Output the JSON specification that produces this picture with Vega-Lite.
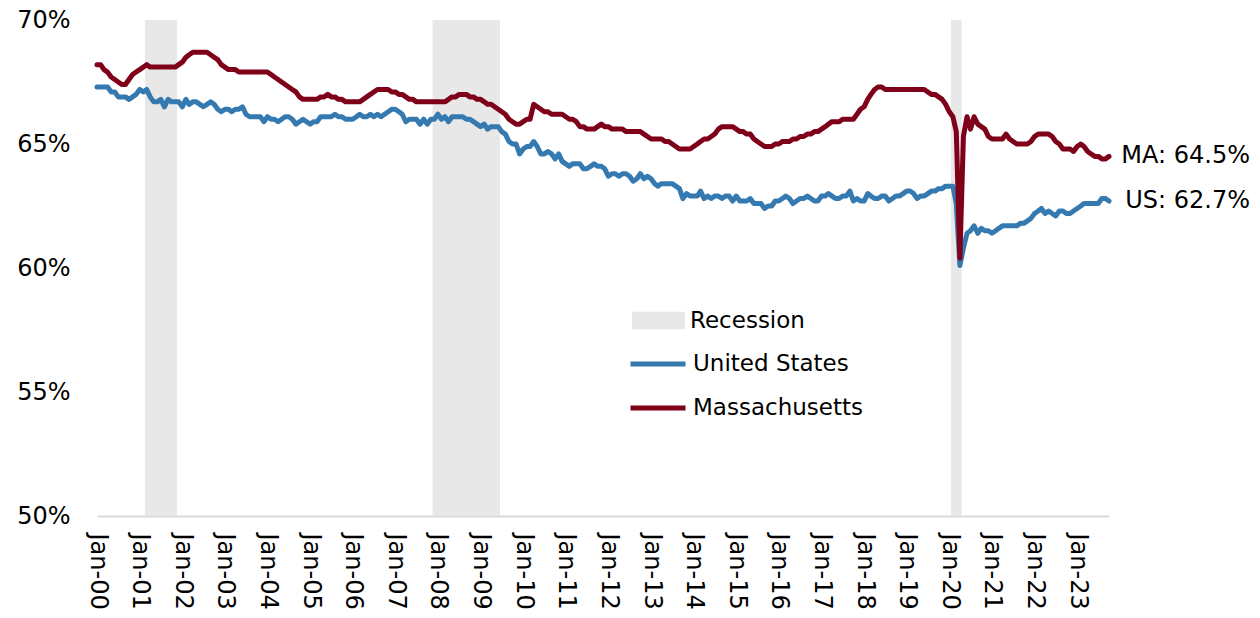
{
  "$schema": "https://vega.github.io/schema/vega-lite/v6.json",
  "width": 1012,
  "height": 496,
  "autosize": {"type": "none"},
  "padding": {"left": 97, "top": 20, "right": 151, "bottom": 102},
  "background": "white",
  "config": {
    "view": {"stroke": null},
    "font": "DejaVu Sans",
    "text": {"font": "DejaVu Sans"}
  },
  "data": {
    "values": [
      {"d":"2000-01","US":67.3,"MA":68.2},{"d":"2000-02","US":67.3,"MA":68.2},{"d":"2000-03","US":67.3,"MA":68.0},{"d":"2000-04","US":67.3,"MA":67.9},{"d":"2000-05","US":67.1,"MA":67.7},{"d":"2000-06","US":67.1,"MA":67.6},{"d":"2000-07","US":66.9,"MA":67.5},{"d":"2000-08","US":66.9,"MA":67.4},{"d":"2000-09","US":66.9,"MA":67.4},{"d":"2000-10","US":66.8,"MA":67.6},{"d":"2000-11","US":66.9,"MA":67.8},{"d":"2000-12","US":67.0,"MA":67.9},
      {"d":"2001-01","US":67.2,"MA":68.0},{"d":"2001-02","US":67.1,"MA":68.1},{"d":"2001-03","US":67.2,"MA":68.2},{"d":"2001-04","US":66.9,"MA":68.1},{"d":"2001-05","US":66.7,"MA":68.1},{"d":"2001-06","US":66.7,"MA":68.1},{"d":"2001-07","US":66.8,"MA":68.1},{"d":"2001-08","US":66.5,"MA":68.1},{"d":"2001-09","US":66.8,"MA":68.1},{"d":"2001-10","US":66.7,"MA":68.1},{"d":"2001-11","US":66.7,"MA":68.1},{"d":"2001-12","US":66.7,"MA":68.2},
      {"d":"2002-01","US":66.5,"MA":68.3},{"d":"2002-02","US":66.8,"MA":68.5},{"d":"2002-03","US":66.6,"MA":68.6},{"d":"2002-04","US":66.7,"MA":68.7},{"d":"2002-05","US":66.7,"MA":68.7},{"d":"2002-06","US":66.6,"MA":68.7},{"d":"2002-07","US":66.5,"MA":68.7},{"d":"2002-08","US":66.6,"MA":68.7},{"d":"2002-09","US":66.7,"MA":68.6},{"d":"2002-10","US":66.6,"MA":68.5},{"d":"2002-11","US":66.4,"MA":68.4},{"d":"2002-12","US":66.3,"MA":68.2},
      {"d":"2003-01","US":66.4,"MA":68.1},{"d":"2003-02","US":66.4,"MA":68.0},{"d":"2003-03","US":66.3,"MA":68.0},{"d":"2003-04","US":66.4,"MA":68.0},{"d":"2003-05","US":66.4,"MA":67.9},{"d":"2003-06","US":66.5,"MA":67.9},{"d":"2003-07","US":66.2,"MA":67.9},{"d":"2003-08","US":66.1,"MA":67.9},{"d":"2003-09","US":66.1,"MA":67.9},{"d":"2003-10","US":66.1,"MA":67.9},{"d":"2003-11","US":66.1,"MA":67.9},{"d":"2003-12","US":65.9,"MA":67.9},
      {"d":"2004-01","US":66.1,"MA":67.9},{"d":"2004-02","US":66.0,"MA":67.8},{"d":"2004-03","US":66.0,"MA":67.7},{"d":"2004-04","US":65.9,"MA":67.6},{"d":"2004-05","US":66.0,"MA":67.5},{"d":"2004-06","US":66.1,"MA":67.4},{"d":"2004-07","US":66.1,"MA":67.3},{"d":"2004-08","US":66.0,"MA":67.2},{"d":"2004-09","US":65.8,"MA":67.1},{"d":"2004-10","US":65.9,"MA":66.9},{"d":"2004-11","US":66.0,"MA":66.8},{"d":"2004-12","US":65.9,"MA":66.8},
      {"d":"2005-01","US":65.8,"MA":66.8},{"d":"2005-02","US":65.9,"MA":66.8},{"d":"2005-03","US":65.9,"MA":66.8},{"d":"2005-04","US":66.1,"MA":66.9},{"d":"2005-05","US":66.1,"MA":66.9},{"d":"2005-06","US":66.1,"MA":67.0},{"d":"2005-07","US":66.1,"MA":66.9},{"d":"2005-08","US":66.2,"MA":66.9},{"d":"2005-09","US":66.1,"MA":66.8},{"d":"2005-10","US":66.1,"MA":66.8},{"d":"2005-11","US":66.0,"MA":66.7},{"d":"2005-12","US":66.0,"MA":66.7},
      {"d":"2006-01","US":66.0,"MA":66.7},{"d":"2006-02","US":66.1,"MA":66.7},{"d":"2006-03","US":66.2,"MA":66.7},{"d":"2006-04","US":66.1,"MA":66.8},{"d":"2006-05","US":66.1,"MA":66.9},{"d":"2006-06","US":66.2,"MA":67.0},{"d":"2006-07","US":66.1,"MA":67.1},{"d":"2006-08","US":66.2,"MA":67.2},{"d":"2006-09","US":66.1,"MA":67.2},{"d":"2006-10","US":66.2,"MA":67.2},{"d":"2006-11","US":66.3,"MA":67.2},{"d":"2006-12","US":66.4,"MA":67.1},
      {"d":"2007-01","US":66.4,"MA":67.1},{"d":"2007-02","US":66.3,"MA":67.0},{"d":"2007-03","US":66.2,"MA":67.0},{"d":"2007-04","US":65.9,"MA":66.9},{"d":"2007-05","US":66.0,"MA":66.8},{"d":"2007-06","US":66.0,"MA":66.8},{"d":"2007-07","US":66.0,"MA":66.7},{"d":"2007-08","US":65.8,"MA":66.7},{"d":"2007-09","US":66.0,"MA":66.7},{"d":"2007-10","US":65.8,"MA":66.7},{"d":"2007-11","US":66.0,"MA":66.7},{"d":"2007-12","US":66.0,"MA":66.7},
      {"d":"2008-01","US":66.2,"MA":66.7},{"d":"2008-02","US":66.0,"MA":66.7},{"d":"2008-03","US":66.1,"MA":66.7},{"d":"2008-04","US":65.9,"MA":66.8},{"d":"2008-05","US":66.1,"MA":66.9},{"d":"2008-06","US":66.1,"MA":66.9},{"d":"2008-07","US":66.1,"MA":67.0},{"d":"2008-08","US":66.1,"MA":67.0},{"d":"2008-09","US":66.0,"MA":67.0},{"d":"2008-10","US":66.0,"MA":66.9},{"d":"2008-11","US":65.9,"MA":66.9},{"d":"2008-12","US":65.8,"MA":66.8},
      {"d":"2009-01","US":65.7,"MA":66.8},{"d":"2009-02","US":65.8,"MA":66.7},{"d":"2009-03","US":65.6,"MA":66.6},{"d":"2009-04","US":65.7,"MA":66.6},{"d":"2009-05","US":65.7,"MA":66.5},{"d":"2009-06","US":65.7,"MA":66.4},{"d":"2009-07","US":65.5,"MA":66.3},{"d":"2009-08","US":65.4,"MA":66.2},{"d":"2009-09","US":65.1,"MA":66.0},{"d":"2009-10","US":65.0,"MA":65.9},{"d":"2009-11","US":65.0,"MA":65.8},{"d":"2009-12","US":64.6,"MA":65.8},
      {"d":"2010-01","US":64.8,"MA":65.9},{"d":"2010-02","US":64.9,"MA":66.0},{"d":"2010-03","US":64.9,"MA":66.0},{"d":"2010-04","US":65.1,"MA":66.6},{"d":"2010-05","US":64.9,"MA":66.5},{"d":"2010-06","US":64.6,"MA":66.4},{"d":"2010-07","US":64.6,"MA":66.3},{"d":"2010-08","US":64.7,"MA":66.3},{"d":"2010-09","US":64.6,"MA":66.2},{"d":"2010-10","US":64.4,"MA":66.2},{"d":"2010-11","US":64.6,"MA":66.2},{"d":"2010-12","US":64.3,"MA":66.2},
      {"d":"2011-01","US":64.2,"MA":66.1},{"d":"2011-02","US":64.1,"MA":66.0},{"d":"2011-03","US":64.2,"MA":66.0},{"d":"2011-04","US":64.2,"MA":65.9},{"d":"2011-05","US":64.2,"MA":65.7},{"d":"2011-06","US":64.0,"MA":65.7},{"d":"2011-07","US":64.0,"MA":65.6},{"d":"2011-08","US":64.1,"MA":65.6},{"d":"2011-09","US":64.2,"MA":65.6},{"d":"2011-10","US":64.1,"MA":65.7},{"d":"2011-11","US":64.1,"MA":65.8},{"d":"2011-12","US":64.0,"MA":65.7},
      {"d":"2012-01","US":63.7,"MA":65.7},{"d":"2012-02","US":63.8,"MA":65.6},{"d":"2012-03","US":63.8,"MA":65.6},{"d":"2012-04","US":63.7,"MA":65.6},{"d":"2012-05","US":63.8,"MA":65.6},{"d":"2012-06","US":63.8,"MA":65.5},{"d":"2012-07","US":63.7,"MA":65.5},{"d":"2012-08","US":63.5,"MA":65.5},{"d":"2012-09","US":63.6,"MA":65.5},{"d":"2012-10","US":63.8,"MA":65.5},{"d":"2012-11","US":63.6,"MA":65.4},{"d":"2012-12","US":63.7,"MA":65.3},
      {"d":"2013-01","US":63.6,"MA":65.2},{"d":"2013-02","US":63.4,"MA":65.2},{"d":"2013-03","US":63.3,"MA":65.2},{"d":"2013-04","US":63.4,"MA":65.2},{"d":"2013-05","US":63.4,"MA":65.1},{"d":"2013-06","US":63.4,"MA":65.1},{"d":"2013-07","US":63.4,"MA":65.0},{"d":"2013-08","US":63.3,"MA":64.9},{"d":"2013-09","US":63.2,"MA":64.8},{"d":"2013-10","US":62.8,"MA":64.8},{"d":"2013-11","US":63.0,"MA":64.8},{"d":"2013-12","US":62.9,"MA":64.8},
      {"d":"2014-01","US":62.9,"MA":64.9},{"d":"2014-02","US":62.9,"MA":65.0},{"d":"2014-03","US":63.1,"MA":65.1},{"d":"2014-04","US":62.8,"MA":65.2},{"d":"2014-05","US":62.9,"MA":65.2},{"d":"2014-06","US":62.8,"MA":65.3},{"d":"2014-07","US":62.9,"MA":65.4},{"d":"2014-08","US":62.9,"MA":65.6},{"d":"2014-09","US":62.8,"MA":65.7},{"d":"2014-10","US":62.9,"MA":65.7},{"d":"2014-11","US":62.9,"MA":65.7},{"d":"2014-12","US":62.7,"MA":65.7},
      {"d":"2015-01","US":62.9,"MA":65.6},{"d":"2015-02","US":62.7,"MA":65.5},{"d":"2015-03","US":62.7,"MA":65.5},{"d":"2015-04","US":62.7,"MA":65.4},{"d":"2015-05","US":62.8,"MA":65.4},{"d":"2015-06","US":62.6,"MA":65.2},{"d":"2015-07","US":62.6,"MA":65.1},{"d":"2015-08","US":62.6,"MA":65.0},{"d":"2015-09","US":62.4,"MA":64.9},{"d":"2015-10","US":62.5,"MA":64.9},{"d":"2015-11","US":62.5,"MA":64.9},{"d":"2015-12","US":62.7,"MA":65.0},
      {"d":"2016-01","US":62.7,"MA":65.0},{"d":"2016-02","US":62.8,"MA":65.1},{"d":"2016-03","US":62.9,"MA":65.1},{"d":"2016-04","US":62.8,"MA":65.1},{"d":"2016-05","US":62.6,"MA":65.2},{"d":"2016-06","US":62.7,"MA":65.2},{"d":"2016-07","US":62.8,"MA":65.3},{"d":"2016-08","US":62.8,"MA":65.3},{"d":"2016-09","US":62.9,"MA":65.4},{"d":"2016-10","US":62.8,"MA":65.4},{"d":"2016-11","US":62.7,"MA":65.5},{"d":"2016-12","US":62.7,"MA":65.5},
      {"d":"2017-01","US":62.9,"MA":65.6},{"d":"2017-02","US":62.9,"MA":65.7},{"d":"2017-03","US":63.0,"MA":65.8},{"d":"2017-04","US":62.9,"MA":65.9},{"d":"2017-05","US":62.8,"MA":65.9},{"d":"2017-06","US":62.8,"MA":65.9},{"d":"2017-07","US":62.9,"MA":66.0},{"d":"2017-08","US":62.9,"MA":66.0},{"d":"2017-09","US":63.1,"MA":66.0},{"d":"2017-10","US":62.7,"MA":66.0},{"d":"2017-11","US":62.8,"MA":66.2},{"d":"2017-12","US":62.7,"MA":66.4},
      {"d":"2018-01","US":62.7,"MA":66.5},{"d":"2018-02","US":63.0,"MA":66.8},{"d":"2018-03","US":62.9,"MA":67.0},{"d":"2018-04","US":62.8,"MA":67.2},{"d":"2018-05","US":62.8,"MA":67.3},{"d":"2018-06","US":62.9,"MA":67.3},{"d":"2018-07","US":62.9,"MA":67.2},{"d":"2018-08","US":62.7,"MA":67.2},{"d":"2018-09","US":62.8,"MA":67.2},{"d":"2018-10","US":62.9,"MA":67.2},{"d":"2018-11","US":62.9,"MA":67.2},{"d":"2018-12","US":63.0,"MA":67.2},
      {"d":"2019-01","US":63.1,"MA":67.2},{"d":"2019-02","US":63.1,"MA":67.2},{"d":"2019-03","US":63.0,"MA":67.2},{"d":"2019-04","US":62.8,"MA":67.2},{"d":"2019-05","US":62.9,"MA":67.2},{"d":"2019-06","US":62.9,"MA":67.2},{"d":"2019-07","US":63.0,"MA":67.1},{"d":"2019-08","US":63.1,"MA":67.0},{"d":"2019-09","US":63.1,"MA":67.0},{"d":"2019-10","US":63.2,"MA":66.9},{"d":"2019-11","US":63.2,"MA":66.8},{"d":"2019-12","US":63.3,"MA":66.6},
      {"d":"2020-01","US":63.3,"MA":66.3},{"d":"2020-02","US":63.3,"MA":66.1},{"d":"2020-03","US":62.6,"MA":65.5},{"d":"2020-04","US":60.1,"MA":60.4},{"d":"2020-05","US":60.8,"MA":65.3},{"d":"2020-06","US":61.4,"MA":66.1},{"d":"2020-07","US":61.5,"MA":65.6},{"d":"2020-08","US":61.7,"MA":66.1},{"d":"2020-09","US":61.4,"MA":65.8},{"d":"2020-10","US":61.6,"MA":65.7},{"d":"2020-11","US":61.5,"MA":65.6},{"d":"2020-12","US":61.5,"MA":65.3},
      {"d":"2021-01","US":61.4,"MA":65.2},{"d":"2021-02","US":61.5,"MA":65.2},{"d":"2021-03","US":61.6,"MA":65.2},{"d":"2021-04","US":61.7,"MA":65.2},{"d":"2021-05","US":61.7,"MA":65.4},{"d":"2021-06","US":61.7,"MA":65.2},{"d":"2021-07","US":61.7,"MA":65.1},{"d":"2021-08","US":61.7,"MA":65.0},{"d":"2021-09","US":61.8,"MA":65.0},{"d":"2021-10","US":61.8,"MA":65.0},{"d":"2021-11","US":61.9,"MA":65.0},{"d":"2021-12","US":62.0,"MA":65.1},
      {"d":"2022-01","US":62.2,"MA":65.3},{"d":"2022-02","US":62.3,"MA":65.4},{"d":"2022-03","US":62.4,"MA":65.4},{"d":"2022-04","US":62.2,"MA":65.4},{"d":"2022-05","US":62.3,"MA":65.4},{"d":"2022-06","US":62.2,"MA":65.3},{"d":"2022-07","US":62.1,"MA":65.1},{"d":"2022-08","US":62.3,"MA":65.0},{"d":"2022-09","US":62.3,"MA":64.8},{"d":"2022-10","US":62.2,"MA":64.8},{"d":"2022-11","US":62.2,"MA":64.8},{"d":"2022-12","US":62.3,"MA":64.7},
      {"d":"2023-01","US":62.4,"MA":64.9},{"d":"2023-02","US":62.5,"MA":65.0},{"d":"2023-03","US":62.6,"MA":64.9},{"d":"2023-04","US":62.6,"MA":64.7},{"d":"2023-05","US":62.6,"MA":64.6},{"d":"2023-06","US":62.6,"MA":64.5},{"d":"2023-07","US":62.6,"MA":64.5},{"d":"2023-08","US":62.8,"MA":64.4},{"d":"2023-09","US":62.8,"MA":64.4},{"d":"2023-10","US":62.7,"MA":64.5}
    ],
    "format": {"parse": {"d": "date:'%Y-%m'"}}
  },
  "encoding": {
    "x": {
      "field": "d",
      "type": "temporal",
      "scale": {"domain": [{"year": 2000, "month": 1, "date": 1}, {"year": 2023, "month": 10, "date": 1}]},
      "axis": {
        "title": null,
        "format": "%b-%y",
        "tickCount": {"interval": "year", "step": 1},
        "labelAngle": 90,
        "labelAlign": "left",
        "labelBaseline": "middle",
        "labelFontSize": 24,
        "labelColor": "#000000",
        "labelPadding": 17,
        "labelOverlap": false,
        "labelFlush": false,
        "labelBound": false,
        "ticks": false,
        "tickSize": 0,
        "grid": false,
        "domain": true,
        "domainColor": "#d9d9d9",
        "domainWidth": 2
      }
    }
  },
  "layer": [
    {
      "data": {
        "values": [
          {"s": "2001-02-15", "e": "2001-11-16", "k": "Recession"},
          {"s": "2007-11-16", "e": "2009-06-16", "k": "Recession"},
          {"s": "2020-01-16", "e": "2020-04-16", "k": "Recession"}
        ],
        "format": {"parse": {"s": "date:'%Y-%m-%d'", "e": "date:'%Y-%m-%d'"}}
      },
      "mark": {"type": "rect"},
      "encoding": {
        "x": {"field": "s", "type": "temporal"},
        "x2": {"field": "e"},
        "fill": {
          "field": "k",
          "type": "nominal",
          "scale": {"domain": ["Recession"], "range": ["#e8e8e8"]},
          "legend": {
            "orient": "none",
            "legendX": 535,
            "legendY": 274,
            "title": null,
            "padding": 0,
            "symbolType": "M-1,-0.33H1V0.33H-1Z",
            "symbolSize": 2809,
            "symbolStrokeWidth": 0,
            "symbolOpacity": 1,
            "labelFontSize": 23,
            "labelColor": "#000000",
            "labelOffset": 5,
            "labelLimit": 0,
            "labelFont": "DejaVu Sans"
          }
        }
      }
    },
    {
      "transform": [{"fold": ["US", "MA"], "as": ["series", "value"]}, {"filter": "datum.series == 'US'"}],
      "mark": {"type": "line", "strokeWidth": 5, "strokeJoin": "round", "strokeCap": "round"},
      "encoding": {
        "y": {
          "field": "value",
          "type": "quantitative",
          "scale": {"domain": [50, 70], "nice": false, "zero": false},
          "axis": {
            "title": null,
            "values": [50, 55, 60, 65, 70],
            "labelExpr": "datum.value + '%'",
            "labelFontSize": 24,
            "labelColor": "#000000",
            "labelPadding": 27,
            "ticks": false,
            "tickSize": 0,
            "domain": false,
            "grid": false
          }
        },
        "stroke": {
          "field": "series",
          "type": "nominal",
          "scale": {"domain": ["US", "MA"], "range": ["#3579b1", "#7f0019"]},
          "legend": {
            "orient": "none",
            "legendX": 531,
            "legendY": 314,
            "title": null,
            "padding": 0,
            "symbolType": "stroke",
            "symbolSize": 3025,
            "symbolStrokeWidth": 5,
            "labelFontSize": 23,
            "labelColor": "#000000",
            "labelOffset": 5,
            "labelLimit": 0,
            "labelFont": "DejaVu Sans",
            "labelExpr": "datum.label == 'US' ? 'United States' : 'Massachusetts'"
          }
        }
      }
    },
    {
      "transform": [{"fold": ["US", "MA"], "as": ["series", "value"]}, {"filter": "datum.series == 'MA'"}],
      "mark": {"type": "line", "strokeWidth": 5, "strokeJoin": "round", "strokeCap": "round"},
      "encoding": {
        "y": {"field": "value", "type": "quantitative"},
        "stroke": {"field": "series", "type": "nominal"}
      }
    },
    {
      "data": {
        "values": [
          {"d": "2023-10", "value": 64.5, "t": "MA: 64.5%"},
          {"d": "2023-10", "value": 62.7, "t": "US: 62.7%"}
        ],
        "format": {"parse": {"d": "date:'%Y-%m'"}}
      },
      "mark": {"type": "text", "align": "right", "baseline": "middle", "dx": 141, "fontSize": 24, "color": "#000000"},
      "encoding": {
        "y": {"field": "value", "type": "quantitative"},
        "text": {"field": "t"}
      }
    }
  ]
}
